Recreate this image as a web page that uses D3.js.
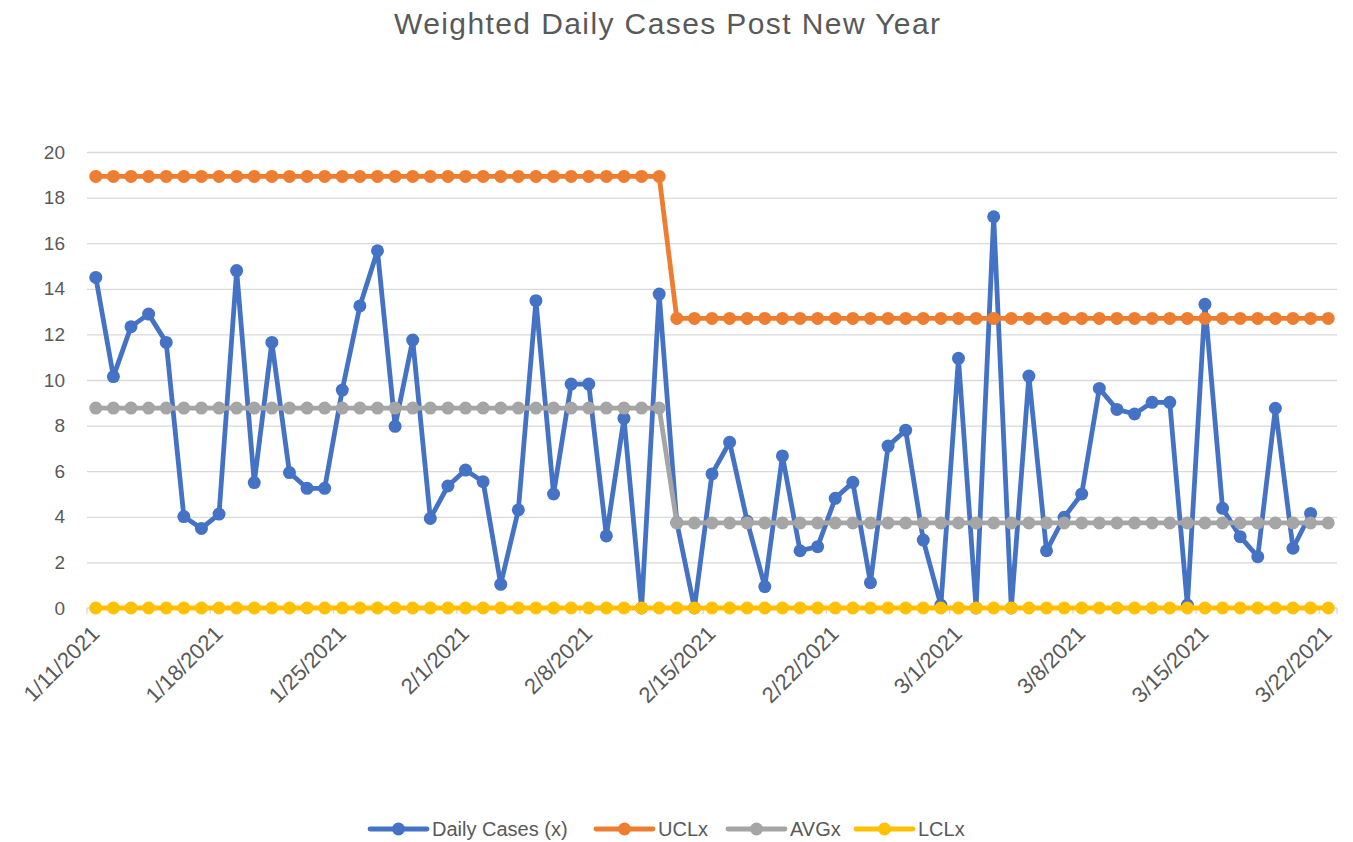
<!DOCTYPE html>
<html lang="en">
<head>
  <meta charset="UTF-8">
  <title>Weighted Daily Cases Post New Year</title>
  <script src="https://d3js.org/d3.v7.min.js"></script>
  <style>
    body { margin: 0; background: #fff; }
    svg { width: 1353px; height: 842px; display: block; }
    text { font-family: "Liberation Sans", "DejaVu Sans", sans-serif; fill: #595959; }
  </style>
</head>
<body>
  <svg></svg>
  <script>
    const firstDay = new Date(2021, 0, 11);
    const lastDay = new Date(2021, 2, 22);

    const tickLabels = [`1/11/2021`, `1/18/2021`, `1/25/2021`, `2/1/2021`, `2/8/2021`, `2/15/2021`,
      `2/22/2021`, `3/1/2021`, `3/8/2021`, `3/15/2021`, `3/22/2021`];
    const yTicks = [0, 2, 4, 6, 8, 10, 12, 14, 16, 18, 20];

    // 1/11 .. 3/21 (no value for 3/22)
    const dailyCases = [
      14.5, 10.15, 12.34, 12.89, 11.65, 4.01, 3.49, 4.12, 14.8, 5.5, 11.65, 5.94, 5.25, 5.25,
      9.56, 13.25, 15.67, 7.97, 11.75, 3.93, 5.35,
      6.05, 5.54, 1.04, 4.3, 13.48, 5.0, 9.82, 9.82, 3.16, 8.32, 0, 13.77, 3.75, 0,
      5.88, 7.27, 3.8, 0.94, 6.67, 2.51, 2.69, 4.81, 5.51, 1.11, 7.1, 7.8, 2.98, 0.13,
      10.95, 0, 17.16, 0, 10.17, 2.51, 3.98, 5.0, 9.63, 8.71, 8.51, 9.02, 9.02, 0.13,
      13.32, 4.37, 3.13, 2.25, 8.76, 2.62, 4.15
    ];
    const uclx = [
      18.93, 18.93, 18.93, 18.93, 18.93, 18.93, 18.93, 18.93, 18.93, 18.93, 18.93, 18.93, 18.93, 18.93,
      18.93, 18.93, 18.93, 18.93, 18.93, 18.93, 18.93, 18.93, 18.93, 18.93, 18.93, 18.93, 18.93, 18.93,
      18.93, 18.93, 18.93, 18.93, 18.93,
      12.7, 12.7, 12.7, 12.7, 12.7, 12.7, 12.7, 12.7, 12.7, 12.7, 12.7, 12.7, 12.7, 12.7, 12.7, 12.7,
      12.7, 12.7, 12.7, 12.7, 12.7, 12.7, 12.7, 12.7, 12.7, 12.7, 12.7, 12.7, 12.7, 12.7, 12.7, 12.7,
      12.7, 12.7, 12.7, 12.7, 12.7, 12.7
    ];
    const avgx = [
      8.77, 8.77, 8.77, 8.77, 8.77, 8.77, 8.77, 8.77, 8.77, 8.77, 8.77, 8.77, 8.77, 8.77,
      8.77, 8.77, 8.77, 8.77, 8.77, 8.77, 8.77, 8.77, 8.77, 8.77, 8.77, 8.77, 8.77, 8.77,
      8.77, 8.77, 8.77, 8.77, 8.77,
      3.73, 3.73, 3.73, 3.73, 3.73, 3.73, 3.73, 3.73, 3.73, 3.73, 3.73, 3.73, 3.73, 3.73, 3.73, 3.73,
      3.73, 3.73, 3.73, 3.73, 3.73, 3.73, 3.73, 3.73, 3.73, 3.73, 3.73, 3.73, 3.73, 3.73, 3.73, 3.73,
      3.73, 3.73, 3.73, 3.73, 3.73, 3.73
    ];
    const lclx = [
      0, 0, 0, 0, 0, 0, 0, 0, 0, 0, 0, 0, 0, 0, 0, 0, 0, 0, 0, 0, 0, 0, 0, 0, 0, 0, 0, 0,
      0, 0, 0, 0, 0, 0, 0, 0, 0, 0, 0, 0, 0, 0, 0, 0, 0, 0, 0, 0, 0, 0, 0, 0, 0, 0, 0, 0,
      0, 0, 0, 0, 0, 0, 0, 0, 0, 0, 0, 0, 0, 0, 0
    ];

    const seriesNames = [`Daily Cases (x)`, `UCLx`, `AVGx`, `LCLx`];
    const seriesColors = [`#4472C4`, `#ED7D31`, `#A5A5A5`, `#FFC000`];

    const days = d3.timeDay.range(firstDay, d3.timeDay.offset(lastDay, 1));
    const margin = {top: 152, bottom: 234, left: 87, right: 16};
    const width = 1353;
    const height = 842;

    const xScale = d3.scaleTime()
      .domain([d3.timeHour.offset(firstDay, -12), d3.timeHour.offset(lastDay, 12)])
      .range([margin.left, width - margin.right]);
    const yScale = d3.scaleLinear()
      .domain([0, 20])
      .range([height - margin.bottom, margin.top]);

    const svg = d3.select(`svg`);

    svg.append(`text`)
      .attr(`x`, 667)
      .attr(`y`, 34)
      .attr(`text-anchor`, `middle`)
      .attr(`font-size`, 30)
      .attr(`textLength`, 546)
      .text(`Weighted Daily Cases Post New Year`);

    // horizontal gridlines
    const yAxis = d3.axisLeft(yScale).tickValues(yTicks)
      .tickSize(-(width - margin.left - margin.right)).tickPadding(22);
    const gy = svg.append(`g`)
      .attr(`transform`, `translate(${margin.left}, 0)`)
      .call(yAxis);
    gy.select(`.domain`).remove();
    gy.selectAll(`.tick line`).attr(`stroke`, `#D9D9D9`).attr(`stroke-width`, 1.3);
    gy.selectAll(`.tick text`).attr(`font-size`, 19).attr(`fill`, `#595959`);

    // x axis: ticks between days, labels under the week starts
    const labelDays = tickLabels.map(s => d3.timeParse(`%m/%d/%Y`)(s));
    const tickDays = labelDays.map(d => d3.timeHour.offset(d, -12));
    const gx = svg.append(`g`)
      .attr(`transform`, `translate(0, ${yScale(0)})`);
    gx.append(`line`)
      .attr(`x1`, margin.left).attr(`x2`, width - margin.right)
      .attr(`stroke`, `#D9D9D9`).attr(`stroke-width`, 1.3);
    gx.selectAll(`line.tk`)
      .data(tickDays.concat([d3.timeHour.offset(lastDay, 12)]))
      .enter()
      .append(`line`)
      .attr(`class`, `tk`)
      .attr(`x1`, d => xScale(d)).attr(`x2`, d => xScale(d))
      .attr(`y1`, 0).attr(`y2`, 6)
      .attr(`stroke`, `#D9D9D9`).attr(`stroke-width`, 1.3);
    gx.selectAll(`text`)
      .data(labelDays)
      .enter()
      .append(`text`)
      .attr(`transform`, d => `translate(${xScale(d) + 5}, 27) rotate(-45)`)
      .attr(`text-anchor`, `end`)
      .attr(`font-size`, 22)
      .text((d, i) => tickLabels[i]);

    const allSeries = [dailyCases, uclx, avgx, lclx];
    const line = d3.line()
      .x((d, i) => xScale(days[i]))
      .y(d => yScale(d));

    allSeries.forEach((values, s) => {
      const g = svg.append(`g`);
      g.append(`path`)
        .datum(values)
        .attr(`fill`, `none`)
        .attr(`stroke`, seriesColors[s])
        .attr(`stroke-width`, 4.8)
        .attr(`stroke-linejoin`, `round`)
        .attr(`d`, line);
      g.selectAll(`circle`)
        .data(values)
        .enter()
        .append(`circle`)
        .attr(`cx`, (d, i) => xScale(days[i]))
        .attr(`cy`, d => yScale(d))
        .attr(`r`, 6.5)
        .attr(`fill`, seriesColors[s]);
    });

    // legend
    const legendX = [370, 596, 728, 856];
    const legend = svg.append(`g`).attr(`transform`, `translate(0, 829)`);
    seriesNames.forEach((name, s) => {
      const x0 = legendX[s];
      legend.append(`line`)
        .attr(`x1`, x0).attr(`x2`, x0 + 57)
        .attr(`stroke`, seriesColors[s]).attr(`stroke-width`, 4.8)
        .attr(`stroke-linecap`, `round`);
      legend.append(`circle`)
        .attr(`cx`, x0 + 28.5).attr(`r`, 6.5)
        .attr(`fill`, seriesColors[s]);
      legend.append(`text`)
        .attr(`x`, x0 + 62).attr(`y`, 7)
        .attr(`font-size`, 20)
        .text(name);
    });
  </script>
</body>
</html>
